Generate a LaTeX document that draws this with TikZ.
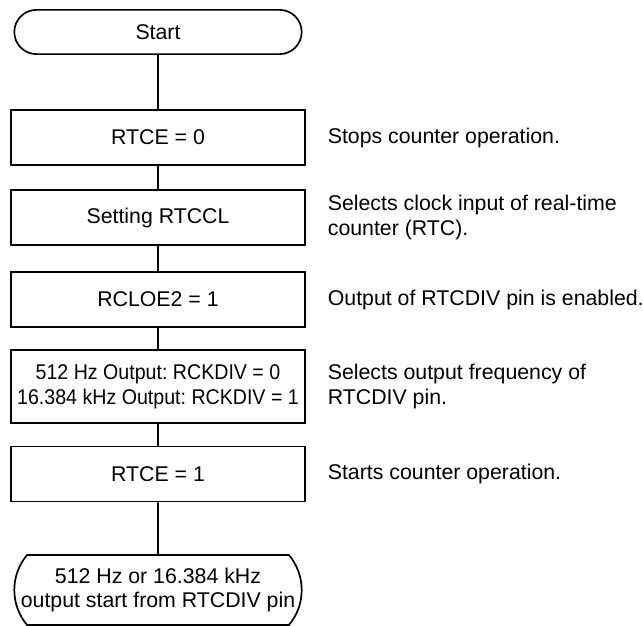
\documentclass[tikz,border=0pt]{standalone}
\usepackage{fontspec}
\setmainfont{Liberation Sans}
\newfontfamily\narrowfont[FakeStretch=0.92]{Liberation Sans}
\usepackage{tikz}
\usetikzlibrary{shapes.misc}

\begin{document}
\frenchspacing
\begin{tikzpicture}[x=0.0165cm, y=-0.0165cm, line width=0.8pt,
        font=\fontsize{10}{11.7}\selectfont,
        % Define the styles for the flow chart
        terminal/.style={draw, rounded rectangle, minimum width=4.74cm, minimum height=0.73cm, inner sep=0pt, align=center},
        process/.style={draw, rectangle, minimum width=4.85cm, minimum height=0.91cm, inner sep=0pt, align=center},
        note/.style={anchor=west, inner sep=0pt, align=left}]

        % 0. Fix the page size
        \useasboundingbox (0,0) rectangle (643,626);

        % 1. The flow chart itself
        \node[terminal] (start) at (158,32) {Start};
        \node[process] (stop) at (158,137.5) {RTCE = 0};
        \node[process] (clock) at (158,217.5) {Setting RTCCL};
        \node[process] (enable) at (158,299.5) {RCLOE2 = 1};
        \node[process, minimum height=1.2cm, font=\fontsize{10}{11.7}\narrowfont] (freq) at (158,386.5) {512 Hz Output: RCKDIV = 0\\16.384 kHz Output: RCKDIV = 1};
        \node[process] (run) at (158,474) {RTCE = 1};
        \node[terminal, minimum height=1.155cm, rounded rectangle arc length=80] (finish) at (158,590) {512 Hz or 16.384 kHz\\output start from RTCDIV pin};

        % 2. Connect the steps
        \draw (start) -- (stop);
        \draw (stop) -- (clock);
        \draw (clock) -- (enable);
        \draw (enable) -- (freq);
        \draw (freq) -- (run);
        \draw (run) -- (finish);

        % 3. Notes on the right
        \node[note] (stopnote) at (327,137.5) {Stops counter operation.};
        \node[note] (clocknote) at (327,217.5) {Selects clock input of real-time\\counter (RTC).};
        \node[note] (enablenote) at (327,299.5) {Output of RTCDIV pin is enabled.};
        \node[note] (freqnote) at (327,386.5) {Selects output frequency of\\RTCDIV pin.};
        \node[note] (runnote) at (327,474) {Starts counter operation.};

    \end{tikzpicture}
\end{document}
